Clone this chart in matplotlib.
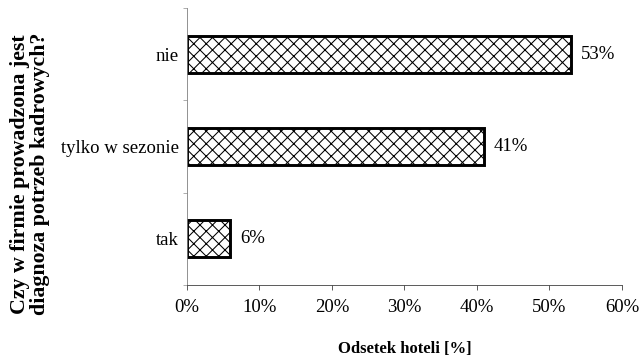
import matplotlib.pyplot as plt

categories = ['tak', 'tylko w sezonie', 'nie']
values = [6, 41, 53]
xticks = [0, 10, 20, 30, 40, 50, 60]

plt.rcParams['font.family'] = ['Liberation Serif', 'DejaVu Serif']
plt.rcParams['hatch.linewidth'] = 1.0

DPI = 75
fig = plt.figure(figsize=(639 / DPI, 362 / DPI), dpi=DPI)
ax = fig.add_axes([0.2926, 0.2127, 0.6808, 0.7653])

ypos = range(len(categories))
bars = ax.barh(ypos, values, height=0.4, color='white', edgecolor='black',
               linewidth=2.8, hatch='xx')

for b, v in zip(bars, values):
    ax.text(b.get_width() + 1.3, b.get_y() + b.get_height() / 2, f'{v}%',
            va='center', ha='left', fontsize=18)

ax.set_xlim(0, 60)
ax.set_ylim(-0.5, 2.5)
ax.set_xticks(xticks)
ax.set_xticklabels([f'{t}%' for t in xticks], fontsize=18)
ax.set_yticks(list(ypos))
ax.set_yticklabels(categories, fontsize=18)
ax.set_yticks([-0.5, 0.5, 1.5, 2.5], minor=True)
ax.tick_params(axis='y', which='major', length=0, pad=8)
ax.tick_params(axis='y', which='minor', length=4, color='#808080')
ax.tick_params(axis='x', length=5, color='#404040', pad=8)

for s in ['top', 'right']:
    ax.spines[s].set_visible(False)
ax.spines['left'].set_color('#808080')
ax.spines['bottom'].set_color('#404040')

ax.set_xlabel('Odsetek hoteli [%]', fontsize=16, fontweight='bold', labelpad=24)
ax.set_ylabel('Czy w firmie prowadzona jest\ndiagnoza potrzeb kadrowych?',
              fontsize=21, fontweight='bold', linespacing=1.0)
ax.yaxis.set_label_coords(-0.315, 0.4)

fig.savefig('out.png', dpi=DPI)
